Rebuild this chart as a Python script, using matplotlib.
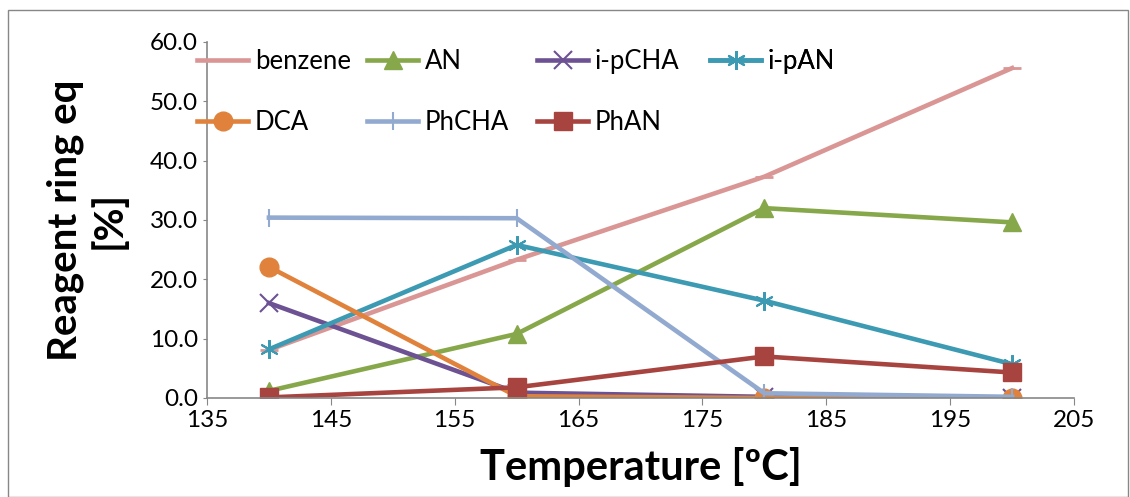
import matplotlib.pyplot as plt

temperature = [140, 160, 180, 200]
benzene = [8.1, 23.3, 37.3, 55.6]
an = [1.2, 10.8, 32.0, 29.6]
i_pcha = [16.0, 0.9, 0.2, 0.0]
i_pan = [8.2, 25.8, 16.4, 5.7]
dca = [22.1, 0.3, 0.0, 0.0]
phcha = [30.4, 30.3, 0.8, 0.2]
phan = [0.1, 1.8, 7.0, 4.3]

plt.rcParams['font.family'] = ['Lato', 'DejaVu Sans']

fig = plt.figure(figsize=(11.3, 4.97), dpi=100)
ax = fig.add_axes([207 / 1130, 1 - 398 / 497, 867 / 1130, 356 / 497])

lw = 3.3
ms = 13.5
l_benz, = ax.plot(temperature, benzene, color='#d99694', lw=lw, marker='_', ms=ms, mew=2, label='benzene')
l_an, = ax.plot(temperature, an, color='#86a84a', lw=lw, marker='^', ms=ms, label='AN')
l_ipcha, = ax.plot(temperature, i_pcha, color='#6c5292', lw=lw, marker='x', ms=ms, mew=1.5, label='i-pCHA')
l_ipan, = ax.plot(temperature, i_pan, color='#3d9ab3', lw=lw, marker=(6, 2, 0), ms=ms, mew=1.5, label='i-pAN')
l_dca, = ax.plot(temperature, dca, color='#e0823b', lw=lw, marker='o', ms=ms, label='DCA')
l_phcha, = ax.plot(temperature, phcha, color='#92a9d0', lw=lw, marker='|', ms=ms, mew=1.5, label='PhCHA')
l_phan, = ax.plot(temperature, phan, color='#a84440', lw=lw, marker='s', ms=ms - 1, label='PhAN')

ax.set_xlim(135, 205)
ax.set_ylim(0, 60)
ax.set_xticks(range(135, 206, 10))
ax.set_yticks(range(0, 61, 10))
ax.yaxis.set_major_formatter(plt.FormatStrFormatter('%.1f'))
ax.tick_params(labelsize=17.5, color='#878787', length=5)
ax.tick_params(axis='y', length=3)
for side in ['top', 'right']:
    ax.spines[side].set_visible(False)
for side in ['left', 'bottom']:
    ax.spines[side].set_color('#878787')
    ax.spines[side].set_linewidth(1.2)

ax.set_xlabel('Temperature [ºC]', fontsize=30, fontweight='bold', labelpad=12)
ax.set_ylabel('Reagent ring eq\n[%]', fontsize=29, fontweight='bold', labelpad=16, linespacing=1.2)

# Excel-style legend: equal-width columns, one legend per column
columns = [[l_benz, l_dca], [l_an, l_phcha], [l_ipcha, l_phan], [l_ipan]]
col_x = [197, 367, 537, 710]
for lines, px in zip(columns, col_x):
    leg = ax.legend(lines, [l.get_label() for l in lines], loc='upper left',
                    bbox_to_anchor=((px - 207) / 867, (398 - 49) / 356), frameon=False,
                    fontsize=18.5, handlelength=2.0, labelspacing=1.4, handletextpad=0.25,
                    borderpad=0, borderaxespad=0)
    ax.add_artist(leg)

border = plt.Rectangle((8 / 1130, 0), 1120 / 1130, 1 - 10 / 497, transform=fig.transFigure,
                       fill=False, edgecolor='#878787', lw=1)
fig.patches.append(border)

fig.savefig('out.png', dpi=100)
